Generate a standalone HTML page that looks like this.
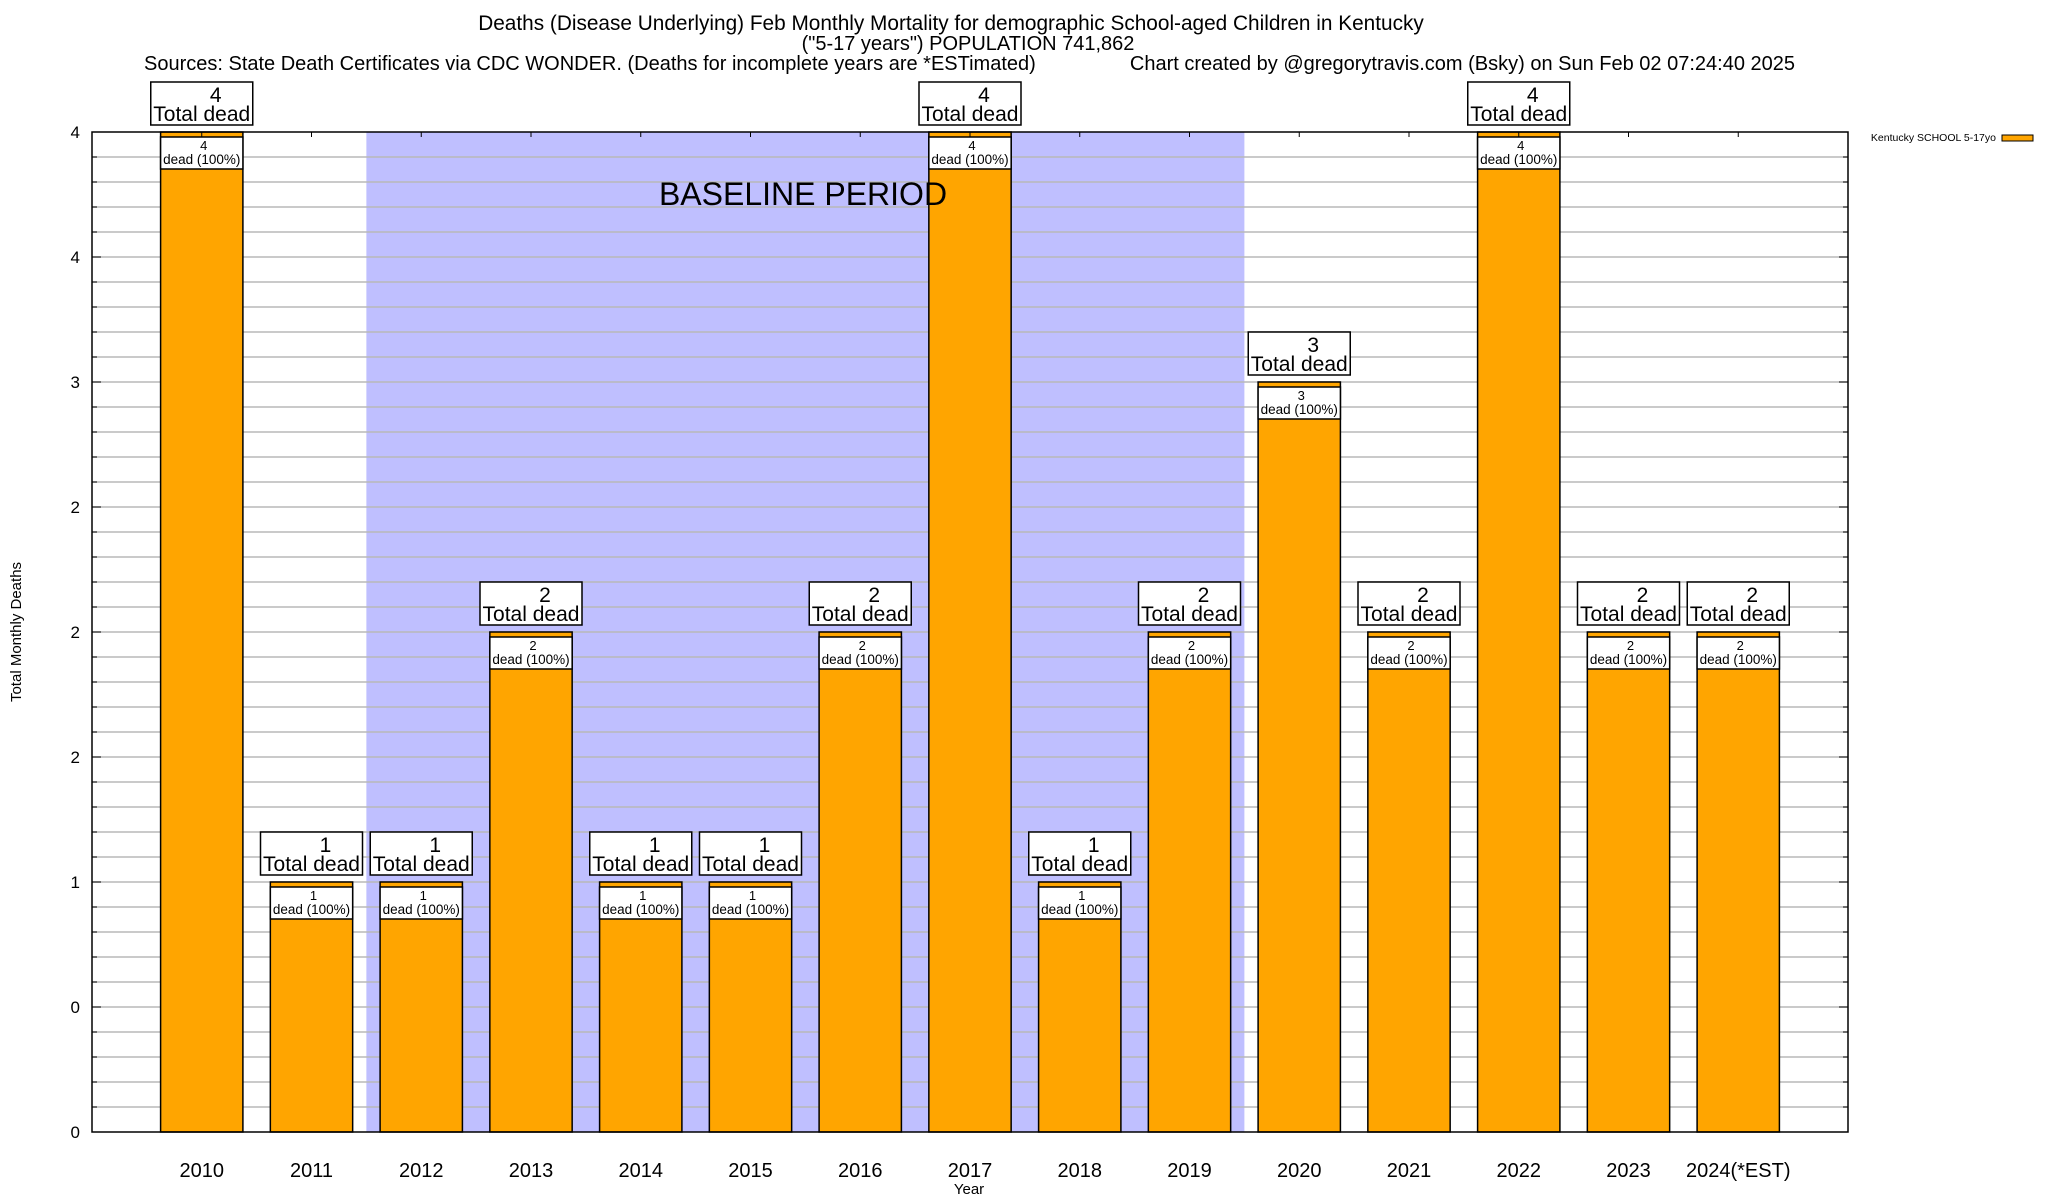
<!DOCTYPE html>
<html><head><meta charset="utf-8">
<style>
html,body{margin:0;padding:0;background:#fff;}
svg{display:block;font-family:"Liberation Sans",Arial,sans-serif;}
</style></head>
<body>
<svg id="chart" width="2048" height="1200" viewBox="0 0 2048 1200" xmlns="http://www.w3.org/2000/svg">
<rect x="0" y="0" width="2048" height="1200" fill="#fff"/>
<g id="shade"></g>
<g id="grid"></g>
<g id="bars"></g>
<g id="axes"></g>
<g id="labels"></g>
<text x="951" y="30" font-size="20.8" text-anchor="middle">Deaths (Disease Underlying) Feb Monthly Mortality for demographic School-aged Children in Kentucky</text>
<text x="968" y="50" font-size="20" text-anchor="middle">("5-17 years") POPULATION 741,862</text>
<text x="144" y="70" font-size="20">Sources: State Death Certificates via CDC WONDER. (Deaths for incomplete years are *ESTimated)</text>
<text x="1795" y="70" font-size="20" text-anchor="end">Chart created by @gregorytravis.com (Bsky) on Sun Feb 02 07:24:40 2025</text>
<text x="803" y="205" font-size="32" text-anchor="middle">BASELINE PERIOD</text>
<text transform="translate(21,632) rotate(-90)" font-size="15" text-anchor="middle">Total Monthly Deaths</text>
<text x="969" y="1194" font-size="15" text-anchor="middle">Year</text>
<g>
<text x="1996" y="141" font-size="10.5" text-anchor="end">Kentucky SCHOOL 5-17yo</text>
<rect x="2002" y="135" width="31" height="6" fill="#ffa500" stroke="#000" stroke-width="1"/>
</g>
</svg>
<script>
const categories = ["2010","2011","2012","2013","2014","2015","2016","2017","2018","2019","2020","2021","2022","2023","2024(*EST)"];
const deaths = [4,1,1,2,1,1,2,4,1,2,3,2,4,2,2];
const yTickValues = [0,0.5,1,1.5,2,2.5,3,3.5,4];
const yTickLabels = ["0","0","1","2","2","2","3","4","4"];
const baselineStart = 2, baselineEnd = 9;

const NS="http://www.w3.org/2000/svg";
const L=92,R=1848,T=132,B=1132;
const yMin=0,yMax=4;
const xStep=(R-L)/(categories.length+1);
function xPos(i){return L+xStep*(i+1);}
function yPos(v){return B-(v-yMin)/(yMax-yMin)*(B-T);}
function mk(tag,attrs,parent,text){const e=document.createElementNS(NS,tag);for(const k in attrs)e.setAttribute(k,attrs[k]);if(text!==undefined)e.textContent=text;parent.appendChild(e);return e;}
const gShade=document.getElementById('shade'),gGrid=document.getElementById('grid'),gBars=document.getElementById('bars'),gAxes=document.getElementById('axes'),gLab=document.getElementById('labels');

const sh=mk('rect',{x:xPos(baselineStart)-xStep/2,y:T,width:xStep*(baselineEnd-baselineStart+1),height:B-T,fill:'#bfbfff'},gShade);



const minorStep=(yTickValues[1]-yTickValues[0])/5;
for(let v=yMin+minorStep;v<yMax-1e-9;v+=minorStep){
  const ln=mk('line',{x1:L,x2:R,y1:yPos(v),y2:yPos(v),stroke:'#b8b8b8','stroke-width':1.5},gGrid);
  
  
  mk('line',{x1:L,x2:L+5,y1:yPos(v),y2:yPos(v),stroke:'#000','stroke-width':1},gAxes);
  mk('line',{x1:R-5,x2:R,y1:yPos(v),y2:yPos(v),stroke:'#000','stroke-width':1},gAxes);
}
yTickValues.forEach((v,i)=>{
  const t=mk('text',{x:L-12,y:yPos(v)+6,'font-size':17,'text-anchor':'end'},gLab,yTickLabels[i]);
  
  
  mk('line',{x1:L,x2:L+9,y1:yPos(v),y2:yPos(v),stroke:'#000','stroke-width':1},gAxes);
  mk('line',{x1:R-9,x2:R,y1:yPos(v),y2:yPos(v),stroke:'#000','stroke-width':1},gAxes);
});

const bw=xStep*0.75;
categories.forEach((c,i)=>{
  const cx=xPos(i),v=deaths[i],y=yPos(v);
  const b=mk('rect',{x:cx-bw/2,y:y,width:bw,height:B-y,fill:'#ffa500',stroke:'#000','stroke-width':1.5},gBars);
  
  
  const ib=mk('rect',{x:cx-bw/2,y:y+5,width:bw,height:32,fill:'#fff',stroke:'#000','stroke-width':1.5},gLab);
  
  
  const t1=mk('text',{x:cx+2,y:y+18,'font-size':13,'text-anchor':'middle'},gLab,String(v));
  
  
  const t2=mk('text',{x:cx,y:y+32,'font-size':13.5,'text-anchor':'middle'},gLab,'dead (100%)');
  
  
  const ob=mk('rect',{x:cx-51,y:y-50,width:102,height:43,fill:'#fff',stroke:'#000','stroke-width':1.5},gLab);
  
  
  const o1=mk('text',{x:cx+14,y:y-30,'font-size':21,'text-anchor':'middle'},gLab,String(v));
  
  
  const o2=mk('text',{x:cx,y:y-11,'font-size':21,'text-anchor':'middle'},gLab,'Total dead');
  
  
  const xl=mk('text',{x:cx,y:B+45,'font-size':20,'text-anchor':'middle'},gLab,c);
  
  
  mk('line',{x1:cx,x2:cx,y1:T,y2:T+5,stroke:'#000','stroke-width':1},gAxes);
});
const frame=mk('rect',{x:L,y:T,width:R-L,height:B-T,fill:'none',stroke:'#000','stroke-width':1.5},gAxes);


</script>
</body></html>
